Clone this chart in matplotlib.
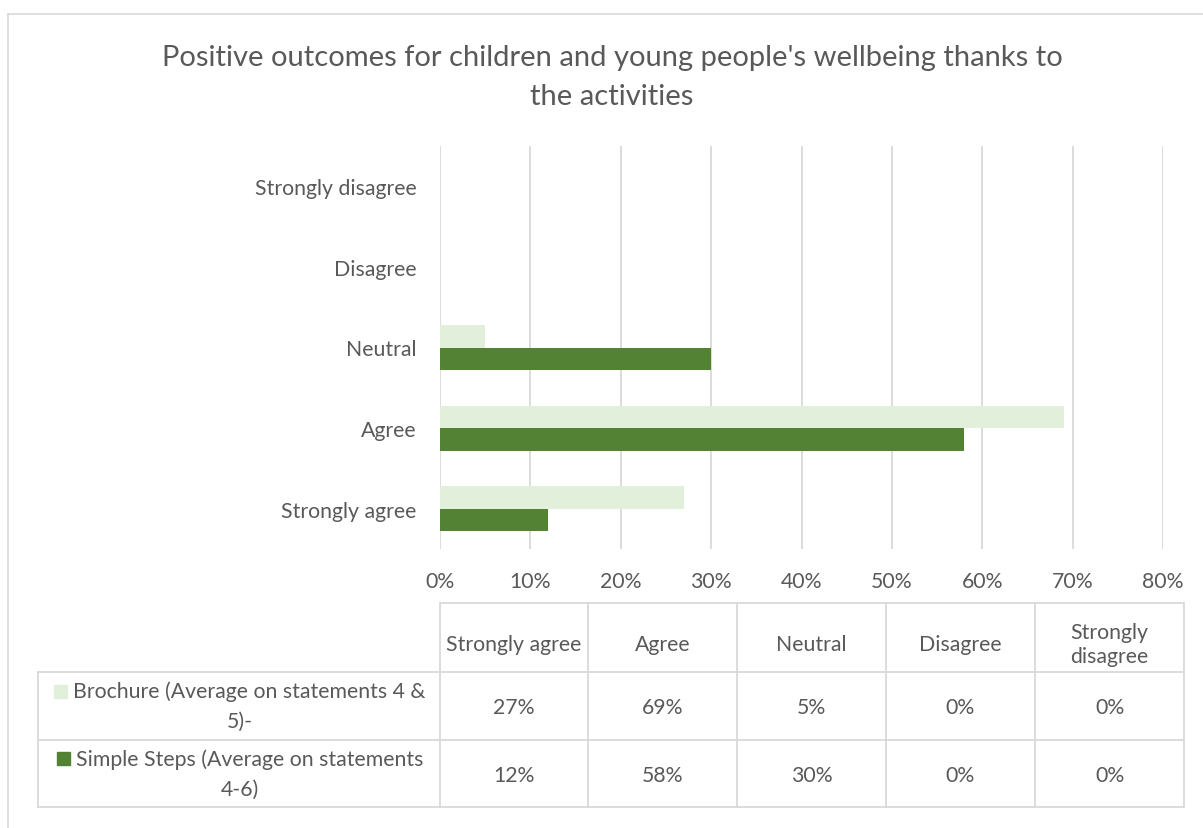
import matplotlib.pyplot as plt
from matplotlib.lines import Line2D
from matplotlib.patches import Rectangle
import numpy as np

categories = ["Strongly agree", "Agree", "Neutral", "Disagree", "Strongly disagree"]
brochure = [0.27, 0.69, 0.05, 0.0, 0.0]
simple_steps = [0.12, 0.58, 0.30, 0.0, 0.0]
series_names = ["Brochure (Average on statements 4 &\n5)-", "Simple Steps (Average on statements\n4-6)"]
header_labels = ["Strongly agree", "Agree", "Neutral", "Disagree", "Strongly\ndisagree"]
xticks = [0, 0.1, 0.2, 0.3, 0.4, 0.5, 0.6, 0.7, 0.8]

LIGHT = "#E2EFDA"
DARK = "#548235"
TEXT = "#595959"
GRID = "#D9D9D9"
FONT = "Lato"
FS = 15.3

W, H = 1203, 829
plt.rcParams["font.family"] = [FONT, "DejaVu Sans"]


def fx(px):
    return px / W


def fy(py):
    return 1 - py / H


fig = plt.figure(figsize=(W / 100, H / 100), dpi=100)

# outer frame
fig.add_artist(Line2D([fx(8), 1], [fy(15), fy(15)], color=GRID, lw=1.2))
fig.add_artist(Line2D([fx(8), fx(8)], [fy(15), 0], color=GRID, lw=1.2))

title = "Positive outcomes for children and young people's wellbeing thanks to\nthe activities"
for k, line in enumerate(title.split("\n")):
    fig.text(fx(612), fy(58 + 39 * k), line, ha="center", va="center", fontsize=21, color=TEXT)

ax = fig.add_axes([fx(440), fy(550), (1163 - 440) / W, (550 - 147) / H])
y = np.arange(len(categories))
h = 0.28
ax.barh(y + h / 2, brochure, height=h, color=LIGHT)
ax.barh(y - h / 2, simple_steps, height=h, color=DARK)
ax.set_xlim(0, 0.8)
ax.set_ylim(-0.5, len(categories) - 0.5)
ax.set_xticks(xticks)
ax.set_xticklabels([f"{t:.0%}" for t in xticks])
ax.set_yticks(y)
ax.set_yticklabels(categories)
ax.tick_params(axis="both", length=0, labelsize=FS, labelcolor=TEXT)
ax.tick_params(axis="x", pad=15.5)
ax.tick_params(axis="y", pad=17)
ax.grid(axis="x", color=GRID, lw=1.3)
ax.set_axisbelow(True)
for s in ax.spines.values():
    s.set_visible(False)

# data table
col_x = [440, 588, 737, 886, 1035, 1184]
row_y = [604, 673, 741, 808]
tl = dict(color=GRID, lw=1.3)
fig.add_artist(Line2D([fx(440), fx(1184)], [fy(604), fy(604)], **tl))
for ry in row_y[1:]:
    fig.add_artist(Line2D([fx(38), fx(1184)], [fy(ry), fy(ry)], **tl))
fig.add_artist(Line2D([fx(38), fx(38)], [fy(673), fy(808)], **tl))
for cx in col_x:
    fig.add_artist(Line2D([fx(cx), fx(cx)], [fy(604), fy(808)], **tl))

for i, lab in enumerate(header_labels):
    cx = (col_x[i] + col_x[i + 1]) / 2
    fig.text(fx(cx), fy(645), lab, ha="center", va="center",
             fontsize=FS, color=TEXT, linespacing=1.2)

renderer = fig.canvas.get_renderer()
center_x = 240
for r, (name, vals, col) in enumerate(zip(series_names, [brochure, simple_steps], [LIGHT, DARK])):
    cy = (row_y[r + 1] + row_y[r + 2]) / 2
    line1, line2 = name.split("\n")
    t1 = fig.text(0, 0, line1, ha="left", va="center", fontsize=FS, color=TEXT)
    w1 = t1.get_window_extent(renderer).width
    total = 19 + w1
    start = center_x - total / 2
    t1.set_position((fx(start + 19), fy(cy - 15)))
    fig.text(fx(center_x), fy(cy + 15), line2, ha="center", va="center", fontsize=FS, color=TEXT)
    fig.add_artist(Rectangle((fx(start), fy(cy - 15 + 6.5)), 13 / W, 13 / H, color=col,
                             transform=fig.transFigure))
    for i, v in enumerate(vals):
        cx = (col_x[i] + col_x[i + 1]) / 2
        fig.text(fx(cx), fy(cy + 1.5), f"{v:.0%}", ha="center", va="center", fontsize=FS, color=TEXT)

fig.savefig("out.png", dpi=100)
